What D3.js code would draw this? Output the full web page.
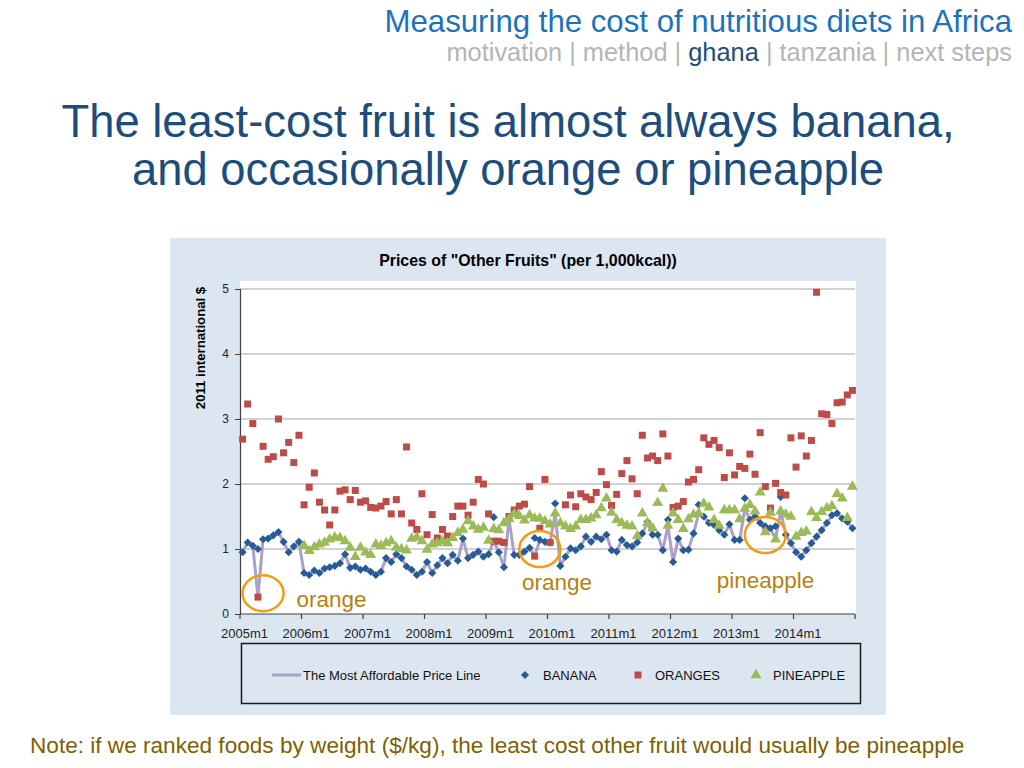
<!DOCTYPE html>
<html><head><meta charset="utf-8">
<script src="https://cdn.jsdelivr.net/npm/d3@7"></script>
<style>html,body{margin:0;padding:0;background:#fff}svg{display:block}</style>
</head><body>
<svg id="c" width="1024" height="768"></svg>
<script>
const years = [2005,2006,2007,2008,2009,2010,2011,2012,2013,2014];
const monthNums = [1,2,3,4,5,6,7,8,9,10,11,12];
const months = years.flatMap(y => monthNums.map(m => y + "m" + m));
const tickLabels = ["2005m1","2006m1","2007m1","2008m1","2009m1","2010m1","2011m1","2012m1","2013m1","2014m1"];
const yTicks = [0,1,2,3,4,5];

const banana = [
0.95,1.10,1.05,1.00,1.15,1.16,1.21,1.26,1.11,0.95,1.04,1.11,
0.63,0.60,0.67,0.63,0.70,0.72,0.74,0.78,0.92,0.71,0.73,0.68,
0.70,0.65,0.60,0.65,0.86,0.80,0.92,0.86,0.73,0.68,0.60,0.65,
0.80,0.63,0.75,0.86,0.78,0.91,0.82,1.16,0.86,0.91,0.96,0.88,
0.92,1.49,0.95,0.72,null,0.91,0.91,0.96,1.02,1.17,1.14,1.11,
1.10,1.70,0.74,0.88,1.01,0.98,1.04,1.19,1.11,1.19,1.15,1.22,
0.98,0.96,1.14,1.06,1.04,1.10,1.24,1.42,1.22,1.22,0.98,1.45,
0.80,1.16,0.98,0.99,1.24,1.68,1.50,1.40,1.37,1.29,1.22,1.38,
1.14,1.14,1.78,1.45,1.50,1.40,1.35,1.32,1.35,1.80,1.22,1.09,
0.95,0.88,0.98,1.09,1.19,1.29,1.40,1.52,1.55,1.47,1.42,1.32];

const oranges = [
2.69,3.23,2.93,0.26,2.58,2.38,2.42,3.00,2.48,2.64,2.33,2.75,
1.68,1.95,2.17,1.72,1.60,1.37,1.60,1.89,1.91,1.76,1.90,1.72,
1.74,1.64,1.63,1.66,1.73,1.54,1.76,1.54,2.57,1.40,1.30,1.85,
1.22,1.53,1.17,1.30,1.20,1.50,1.66,1.66,1.52,1.72,2.07,2.00,
1.54,1.12,1.12,1.10,1.50,1.60,1.66,1.69,1.96,0.89,1.32,2.07,
1.10,null,null,1.68,1.83,1.65,1.85,1.80,1.76,1.87,2.19,1.99,
1.67,1.84,2.16,2.36,2.08,1.85,2.75,2.40,2.43,2.36,2.77,2.43,
1.64,1.66,1.73,2.03,2.07,2.22,2.71,2.61,2.67,2.56,2.10,2.48,
2.14,2.27,2.24,2.46,2.15,2.79,1.96,1.63,2.01,1.87,1.83,2.71,
2.26,2.74,2.43,2.67,4.95,3.08,3.07,2.93,3.25,3.26,3.37,3.44];

const pineapple = [
null,null,null,null,null,null,null,null,null,null,null,null,
1.05,0.97,1.03,1.07,1.10,1.15,1.18,1.17,1.12,1.02,0.88,1.02,
0.95,0.91,1.07,1.05,1.09,1.12,1.02,1.00,0.98,1.16,1.18,1.12,
0.99,1.07,1.09,1.12,1.09,1.17,1.25,1.30,1.43,1.35,1.30,1.33,
1.13,1.31,1.29,1.40,1.46,1.54,1.51,1.44,1.52,1.47,1.47,1.43,
1.38,1.55,1.40,1.35,1.31,1.35,1.45,1.45,1.47,1.52,1.63,1.78,
1.56,1.45,1.40,1.36,1.35,1.20,1.55,1.40,1.32,1.71,1.93,1.36,
1.55,1.45,1.31,1.46,1.53,1.55,1.70,1.64,1.45,1.36,1.60,1.60,
1.60,1.46,1.62,1.68,1.58,1.87,1.26,1.56,1.15,1.58,1.53,1.50,
1.19,1.25,1.27,1.57,1.48,1.57,1.63,1.66,1.85,1.78,1.48,1.96];

// most affordable price among the three fruits each month
const affordable = months.map((m, i) => d3.min([banana[i], oranges[i], pineapple[i]]));

const callouts = [
  {month: "2005m5", value: 0.32, label: "orange", lx: "2005m12", ly: 0.11},
  {month: "2009m11", value: 1.0, label: "orange", lx: "2009m8", ly: 0.37},
  {month: "2013m7", value: 1.215, label: "pineapple", lx: "2012m10", ly: 0.40}
];

const svg = d3.select("#c");
const sans = "'Liberation Sans', Arial, sans-serif";

// header
svg.append("text").attr("x", 1012).attr("y", 32).attr("text-anchor", "end")
  .attr("font-family", sans).attr("font-size", 31.2).attr("fill", "#1b73bb")
  .text("Measuring the cost of nutritious diets in Africa");
const nav = svg.append("text").attr("x", 1012).attr("y", 61).attr("text-anchor", "end")
  .attr("font-family", sans).attr("font-size", 25.4).attr("fill", "#b5b5b5");
[["motivation | method | ", "#b5b5b5"], ["ghana", "#1f4e79"], [" | tanzania | next steps", "#b5b5b5"]]
  .forEach(([t, c]) => nav.append("tspan").attr("fill", c).text(t));

// title
const title = svg.append("text").attr("text-anchor", "middle").attr("font-family", sans)
  .attr("font-size", 45.4).attr("fill", "#1d4d7c");
title.append("tspan").attr("x", 508).attr("y", 137).text("The least-cost fruit is almost always banana,");
title.append("tspan").attr("x", 508).attr("y", 185).text("and occasionally orange or pineapple");

// chart panel
svg.append("rect").attr("x", 170).attr("y", 238).attr("width", 716).attr("height", 477).attr("fill", "#dce6f1");

const L = 240, R = 855, T = 289, B = 614;
const x = d3.scaleBand().domain(months).range([L, R]);
const y = d3.scaleLinear().domain([0, 5]).range([B, T]);
const cx = m => x(m) + x.bandwidth() / 2;

svg.append("rect").attr("x", L).attr("y", 281).attr("width", R - L + 1).attr("height", B - 281).attr("fill", "#fff");

svg.append("text").attr("x", 528).attr("y", 266).attr("text-anchor", "middle")
  .attr("font-family", sans).attr("font-weight", "bold").attr("font-size", 15.9).attr("fill", "#000")
  .text('Prices of "Other Fruits" (per 1,000kcal))');

// gridlines
svg.append("g").selectAll("line").data(yTicks.filter(d => d > 0)).join("line")
  .attr("x1", L).attr("x2", R).attr("y1", d => y(d)).attr("y2", d => y(d))
  .attr("stroke", "#a6a6a6").attr("stroke-width", 1.2);

// y axis
const yAxis = svg.append("g").attr("transform", `translate(${L},0)`)
  .call(d3.axisLeft(y).tickValues(yTicks).tickSize(5).tickPadding(6).tickFormat(d3.format("d")));
yAxis.select(".domain").attr("stroke", "#404040").attr("stroke-width", 1.2);
yAxis.selectAll(".tick line").attr("stroke", "#404040");
yAxis.selectAll("text").attr("font-family", sans).attr("font-size", 12).attr("fill", "#222");

// x axis: ticks at year boundaries, labels at first month
const xg = svg.append("g");
xg.append("line").attr("x1", L).attr("x2", R).attr("y1", B).attr("y2", B).attr("stroke", "#404040").attr("stroke-width", 1.2);
const boundaries = months.filter((m, i) => i % 12 === 0).map(m => x(m)).concat([R]);
xg.selectAll("line.t").data(boundaries).join("line").attr("class", "t")
  .attr("x1", d => d).attr("x2", d => d).attr("y1", B).attr("y2", B + 5)
  .attr("stroke", "#404040").attr("stroke-width", 1.2);
xg.selectAll("text").data(tickLabels).join("text")
  .attr("x", d => cx(d) + 2).attr("y", B + 24).attr("text-anchor", "middle")
  .attr("font-family", sans).attr("font-size", 13).attr("fill", "#222").text(d => d);

// y title
svg.append("text").attr("transform", "translate(205,348) rotate(-90)").attr("text-anchor", "middle")
  .attr("font-family", sans).attr("font-weight", "bold").attr("font-size", 13.2).attr("fill", "#000")
  .text("2011 international $");

// most affordable line
const line = d3.line().defined(d => d[1] != null).x(d => cx(d[0])).y(d => y(d[1]));
svg.append("path").datum(months.map((m, i) => [m, affordable[i]]))
  .attr("d", line).attr("fill", "none").attr("stroke", "#aaa1cb").attr("stroke-width", 3)
  .attr("stroke-linejoin", "round");

const diamond = d3.symbol().type(d3.symbolDiamond2).size(42);
const square = d3.symbol().type(d3.symbolSquare).size(49);
const tri = d3.symbol().type(d3.symbolTriangle).size(52);

function drawSeries(vals, sym, color) {
  svg.append("g").selectAll("path").data(months.map((m, i) => [m, vals[i]]).filter(d => d[1] != null))
    .join("path").attr("d", sym).attr("fill", color)
    .attr("transform", d => `translate(${cx(d[0])},${y(d[1])})`);
}
drawSeries(banana, diamond, "#285a95");
drawSeries(oranges, square, "#bd4b48");
drawSeries(pineapple, tri, "#9bbb59");

// callouts
callouts.forEach(c => {
  svg.append("ellipse").attr("cx", cx(c.month)).attr("cy", y(c.value)).attr("rx", 20.5).attr("ry", 18)
    .attr("fill", "none").attr("stroke", "#f39c12").attr("stroke-width", 2.5);
  svg.append("text").attr("x", x(c.lx)).attr("y", y(c.ly)).attr("font-family", sans)
    .attr("font-size", 22.5).attr("fill", "#b7800f").text(c.label);
});

// legend
svg.append("rect").attr("x", 241.5).attr("y", 643.5).attr("width", 619).attr("height", 60)
  .attr("fill", "none").attr("stroke", "#1a1a1a").attr("stroke-width", 1.5);
const ly = 675;
const lg = svg.append("g").attr("font-family", sans).attr("font-size", 13).attr("fill", "#111");
lg.append("line").attr("x1", 272).attr("x2", 301).attr("y1", ly).attr("y2", ly).attr("stroke", "#aaa1cb").attr("stroke-width", 3);
lg.append("text").attr("x", 303).attr("y", ly + 4.5).text("The Most Affordable Price Line");
lg.append("path").attr("d", diamond).attr("fill", "#285a95").attr("transform", `translate(525,${ly})`);
lg.append("text").attr("x", 543).attr("y", ly + 4.5).text("BANANA");
lg.append("path").attr("d", square).attr("fill", "#bd4b48").attr("transform", `translate(638,${ly})`);
lg.append("text").attr("x", 655).attr("y", ly + 4.5).text("ORANGES");
lg.append("path").attr("d", tri).attr("fill", "#9bbb59").attr("transform", `translate(756,${ly})`);
lg.append("text").attr("x", 773).attr("y", ly + 4.5).text("PINEAPPLE");

// note
svg.append("text").attr("x", 30).attr("y", 753).attr("font-family", sans).attr("font-size", 22.6)
  .attr("fill", "#7f6000")
  .text("Note: if we ranked foods by weight ($/kg), the least cost other fruit would usually be pineapple");
</script>
</body></html>
